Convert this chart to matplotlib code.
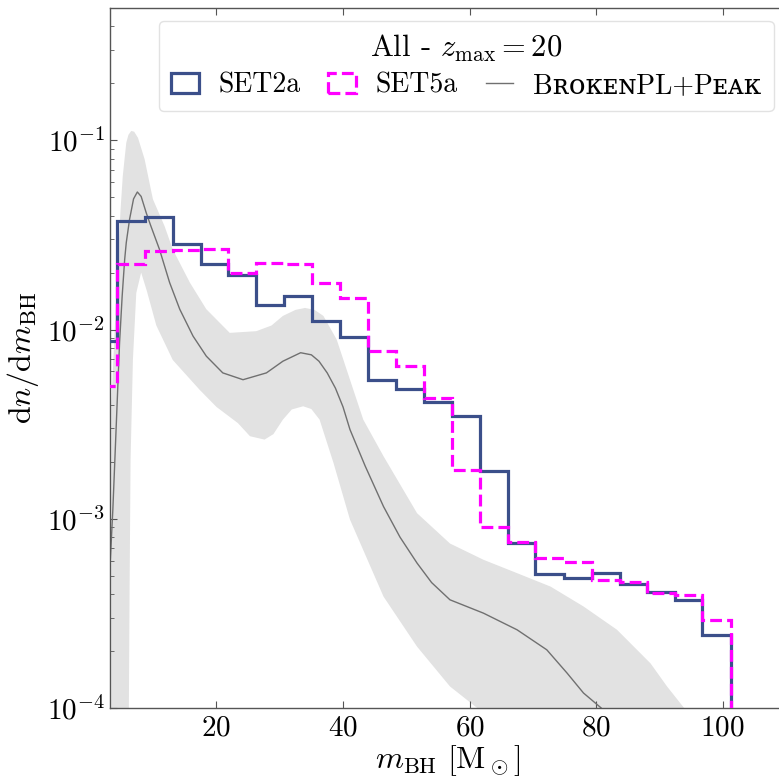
import numpy as np
import matplotlib
matplotlib.use("Agg")
import matplotlib.pyplot as plt

plt.rcParams['font.family'] = ['cmr10', 'DejaVu Serif']
plt.rcParams['mathtext.fontset'] = 'cm'
plt.rcParams['axes.unicode_minus'] = False
plt.rcParams['axes.formatter.use_mathtext'] = True

# ---------------- data ----------------
bin_edges = [-0.1, 4.3, 8.7, 13.1, 17.5, 21.9, 26.3, 30.7, 35.1, 39.6, 44.0,
             48.4, 52.8, 57.2, 61.6, 66.0, 70.4, 74.9, 79.3, 83.7, 88.1,
             92.4, 96.8, 101.3]
set2a = [0.0087, 0.0374, 0.0395, 0.0282, 0.0223, 0.0195, 0.01345, 0.0151,
         0.01107, 0.0091, 0.00543, 0.00482, 0.00414, 0.00348, 0.00178,
         0.000743, 0.000512, 0.000489, 0.000516, 0.000451, 0.000412,
         0.00037, 0.000243]
set5a = [0.00501, 0.0221, 0.0259, 0.0262, 0.0265, 0.0200, 0.02254, 0.0223,
         0.01766, 0.01459, 0.00768, 0.0064, 0.00435, 0.00182, 0.00091,
         0.000758, 0.00062, 0.000594, 0.000475, 0.000466, 0.000404,
         0.000396, 0.00029]

median_m = [3.0, 3.1, 3.63, 4.16, 4.69, 5.1, 5.5, 5.75, 6.27, 6.9, 7.5, 8.1,
            8.9, 9.6, 11.0, 12.6, 14.2, 16.3, 18.4, 21.0, 24.2, 27.9, 30.5,
            33.3, 35.0, 36.2, 37.5, 38.8, 40.0, 41.1, 43.5, 46.4, 49.0, 51.7,
            54.0, 56.9, 62.2, 67.5, 72.2, 75.4, 78.0, 80.8, 82.0]
median_v = [0.0004, 0.000495, 0.00112, 0.00308, 0.0085, 0.015, 0.0235, 0.0288,
            0.0382, 0.049, 0.0533, 0.0505, 0.0414, 0.0355, 0.0265, 0.0177,
            0.0128, 0.00923, 0.00723, 0.0059, 0.00543, 0.0059, 0.0068,
            0.00754, 0.00735, 0.0068, 0.0059, 0.0049, 0.0039, 0.00296,
            0.0019, 0.00116, 0.0008, 0.000583, 0.00046, 0.000373, 0.000317,
            0.000259, 0.000203, 0.000153, 0.00012, 0.0001, 0.000085]

upper_m = [3.4, 3.9, 4.16, 4.53, 4.85, 5.2, 5.75, 6.1, 6.54, 7.0, 7.6, 8.65,
           9.96, 11.8, 13.1, 15.8, 18.4, 22.1, 26.3, 28.7, 30.5, 32.5, 34.0,
           35.5, 36.9, 39.0, 41.1, 43.2, 46.4, 51.7, 56.9, 62.2, 67.5, 72.8,
           78.0, 83.3, 88.6, 91.2, 93.9, 95.5]
upper_v = [0.004, 0.0096, 0.0145, 0.0265, 0.0431, 0.0648, 0.097, 0.107,
           0.112, 0.111, 0.103, 0.0794, 0.0488, 0.0352, 0.0265, 0.0177,
           0.0128, 0.0096, 0.0098, 0.0105, 0.0118, 0.0127, 0.0130, 0.0127,
           0.0118, 0.00885, 0.00543, 0.00334, 0.00214, 0.00107, 0.00074,
           0.000607, 0.000516, 0.000438, 0.000344, 0.000259, 0.000172,
           0.00013, 0.0001, 0.00007]

lower_m = [3.4, 6.1, 6.16, 6.27, 6.43, 6.8, 7.33, 8.1, 9.0, 10.5, 13.1,
           17.35, 20.0, 23.4, 25.3, 27.6, 29.0, 30.5, 31.9, 33.7, 35.0, 36.3,
           38.5, 41.1, 46.4, 51.7, 56.9, 61.2, 63.0]
lower_v = [1e-6, 1e-6, 0.0001, 0.000405, 0.00205, 0.00693, 0.0156, 0.020,
           0.016, 0.0105, 0.0069, 0.0048, 0.0039, 0.0032, 0.00273, 0.00262,
           0.0028, 0.00334, 0.00378, 0.00393, 0.0038, 0.00334, 0.00197,
           0.00099, 0.000388, 0.000211, 0.00013, 0.0001, 0.00007]

title = r'All - $z_{\rm max} = 20$'
labels = ['SET2a', 'SET5a', 'B\u0280\u1d0f\u1d0b\u1d07\u0274PL+P\u1d07\u1d00\u1d0b']

# ---------------- figure ----------------
W, H = 779, 777
fig = plt.figure(figsize=(W / 100, H / 100), dpi=100)
ax = fig.add_axes([109.5 / W, 1 - 708 / H, (786 - 109.5) / W, (708 - 8) / H])

band_x = np.concatenate([upper_m, lower_m[::-1]])
band_y = np.concatenate([upper_v, lower_v[::-1]])
ax.fill(band_x, band_y, color='#e2e2e2', lw=0, zorder=1)
ax.plot(median_m, median_v, color='#707070', lw=1.0, zorder=2, label=labels[2])

centers = 0.5 * (np.array(bin_edges[:-1]) + np.array(bin_edges[1:]))
ax.hist(centers, bins=bin_edges, weights=set2a, histtype='step',
        color='#3b4f8a', lw=2.3, zorder=3, label=labels[0])
ax.hist(centers, bins=bin_edges, weights=set5a, histtype='step',
        color='#ff00ff', lw=2.3, ls='--', zorder=4, label=labels[1])

ax.set_yscale('log')
ax.set_xlim(3.1, 110)
ax.set_ylim(1e-4, 0.5)
ax.set_xticks([20, 40, 60, 80, 100])

for s in ax.spines.values():
    s.set_color('#555555')
    s.set_linewidth(1.0)
ax.tick_params(which='both', direction='in', top=True, right=True,
               colors='#555555', labelcolor='black', labelsize=21)
ax.tick_params(which='major', length=5, width=0.8)
ax.tick_params(which='minor', length=3, width=0.6)
ax.tick_params(axis='x', which='major', pad=5)

ax.set_xlabel(r'$m_{\rm BH}\ [\mathrm{M}_\odot]$', fontsize=23, labelpad=1)
ax.set_ylabel(r'$\mathrm{d}n/\mathrm{d}m_{\rm BH}$', fontsize=23, labelpad=4)

h, l = ax.get_legend_handles_labels()
order = [l.index(x) for x in labels]
leg = ax.legend([h[i] for i in order], [l[i] for i in order], title=title,
                loc='upper right', ncol=3, fontsize=20, title_fontsize=22,
                handlelength=1.0, handletextpad=0.7, columnspacing=1.0,
                frameon=True, fancybox=True, framealpha=0.85,
                edgecolor='#dddddd', borderpad=0.45, labelspacing=0.3,
                borderaxespad=0.45)

fig.savefig('out.png', dpi=100)
